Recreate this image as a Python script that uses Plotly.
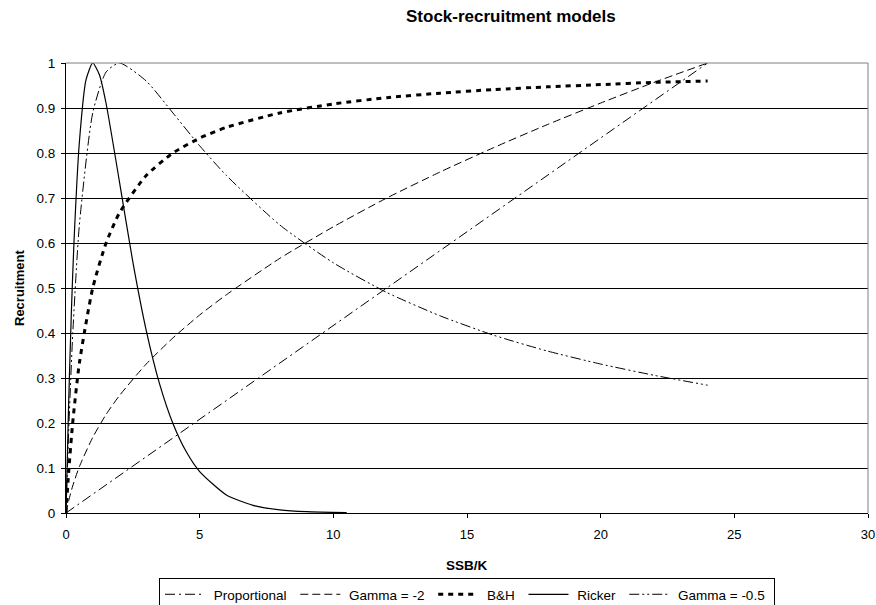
import plotly.graph_objects as go

# ---- data ----
x_common = [0, 0.1, 0.25, 0.5, 1, 1.5, 2, 3, 4, 5, 6, 8, 10, 12, 14, 16, 18, 20, 22, 24]

prop_x = [0, 24]
prop_y = [0, 1]

gamma2_y = [0, 0.027, 0.060, 0.103, 0.168, 0.219, 0.261, 0.331, 0.389, 0.440, 0.485,
            0.566, 0.636, 0.700, 0.758, 0.812, 0.863, 0.911, 0.957, 1.000]

bh_y = [0, 0.091, 0.200, 0.333, 0.500, 0.600, 0.667, 0.750, 0.800, 0.833, 0.857,
        0.889, 0.909, 0.923, 0.933, 0.941, 0.947, 0.952, 0.957, 0.960]

gamma05_y = [0, 0.181, 0.395, 0.640, 0.889, 0.980, 1.000, 0.960, 0.889, 0.816, 0.750,
             0.640, 0.556, 0.490, 0.438, 0.395, 0.360, 0.331, 0.306, 0.284]

ricker_x = [0, 0.1, 0.2, 0.3, 0.5, 0.75, 1, 1.25, 1.5, 2, 2.5, 3, 3.5, 4, 4.5, 5, 6, 7, 8, 9, 10.5]
ricker_y = [0, 0.246, 0.445, 0.604, 0.824, 0.963, 1.000, 0.974, 0.910, 0.736, 0.558, 0.406,
            0.287, 0.199, 0.136, 0.092, 0.040, 0.017, 0.007, 0.003, 0.001]

x_ticks = [0, 5, 10, 15, 20, 25, 30]
y_ticks = [0, 0.1, 0.2, 0.3, 0.4, 0.5, 0.6, 0.7, 0.8, 0.9, 1]
y_tick_labels = ["0", "0.1", "0.2", "0.3", "0.4", "0.5", "0.6", "0.7", "0.8", "0.9", "1"]

series_names = ["Proportional", "Gamma = -2", "B&H", "Ricker", "Gamma = -0.5"]

FONT = "Liberation Sans, Arial, sans-serif"
NB = "\u00a0"


def lbl(s):
    return NB + s + NB


fig = go.Figure()
fig.add_trace(go.Scatter(x=prop_x, y=prop_y, mode="lines", name=lbl(series_names[0]),
                         line=dict(color="black", width=1, dash="10px,4px,2px,4px")))
fig.add_trace(go.Scatter(x=x_common, y=gamma2_y, mode="lines", name=lbl(series_names[1]),
                         line=dict(color="black", width=1, dash="8px,4px", shape="spline", smoothing=0.6)))
fig.add_trace(go.Scatter(x=x_common, y=bh_y, mode="lines", name=lbl(series_names[2]),
                         line=dict(color="black", width=3, dash="5px,5px", shape="spline", smoothing=0.6)))
fig.add_trace(go.Scatter(x=ricker_x, y=ricker_y, mode="lines", name=lbl(series_names[3]),
                         line=dict(color="black", width=1.2, shape="spline", smoothing=0.6)))
fig.add_trace(go.Scatter(x=x_common, y=gamma05_y, mode="lines", name=lbl(series_names[4]),
                         line=dict(color="black", width=1, dash="10px,3px,2px,3px,2px,3px",
                                   shape="spline", smoothing=0.6)))

fig.update_layout(
    width=876, height=605,
    margin=dict(l=66, r=8, t=63, b=92, autoexpand=False),
    paper_bgcolor="white", plot_bgcolor="white",
    font=dict(family=FONT, size=13, color="black"),
    title=dict(text="<b>Stock-recruitment models</b>", x=406 / 876, xanchor="left",
               y=1 - 16 / 605, yanchor="middle", yref="container",
               font=dict(family=FONT, size=17, color="black")),
    showlegend=True,
    legend=dict(orientation="h", x=0.5, xanchor="center", xref="paper",
                y=1 - 578 / 605, yanchor="top", yref="container",
                bordercolor="black", borderwidth=1, bgcolor="white",
                font=dict(family=FONT, size=13.5, color="black"),
                itemwidth=40, tracegroupgap=0),
    xaxis=dict(range=[0, 30], tickvals=x_ticks, ticktext=[str(t) for t in x_ticks],
               showgrid=False, zeroline=False, showline=True, linecolor="black", linewidth=1,
               ticks="outside", ticklen=4, tickcolor="black", automargin=False,
               ticklabelstandoff=5,
               tickfont=dict(family=FONT, size=13, color="black")),
    yaxis=dict(range=[0, 1], tickvals=y_ticks, ticktext=y_tick_labels,
               showgrid=True, gridcolor="black", gridwidth=1, zeroline=False,
               showline=True, linecolor="black", linewidth=1,
               ticks="outside", ticklen=4, tickcolor="black", automargin=False,
               ticklabelstandoff=3,
               tickfont=dict(family=FONT, size=13.5, color="black")),
    annotations=[
        dict(text="<b>SSB/K</b>", xref="paper", yref="paper", x=0.5, y=-52 / 450,
             xanchor="center", yanchor="middle", showarrow=False,
             font=dict(family=FONT, size=13.5, color="black")),
        dict(text="<b>Recruitment</b>", xref="paper", yref="paper", x=-47 / 802, y=0.5,
             xanchor="center", yanchor="middle", showarrow=False, textangle=-90,
             font=dict(family=FONT, size=13, color="black")),
    ],
    shapes=[
        dict(type="line", xref="paper", yref="paper", x0=0, x1=1, y0=1, y1=1,
             line=dict(color="#808080", width=1), layer="above"),
        dict(type="line", xref="paper", yref="paper", x0=1, x1=1, y0=0, y1=1,
             line=dict(color="#808080", width=1), layer="above"),
    ],
)

fig.write_html("out.html", config={"displayModeBar": False},
               post_script="document.body.style.margin='0';document.body.style.padding='0';"
                           "document.body.style.overflow='hidden';")
